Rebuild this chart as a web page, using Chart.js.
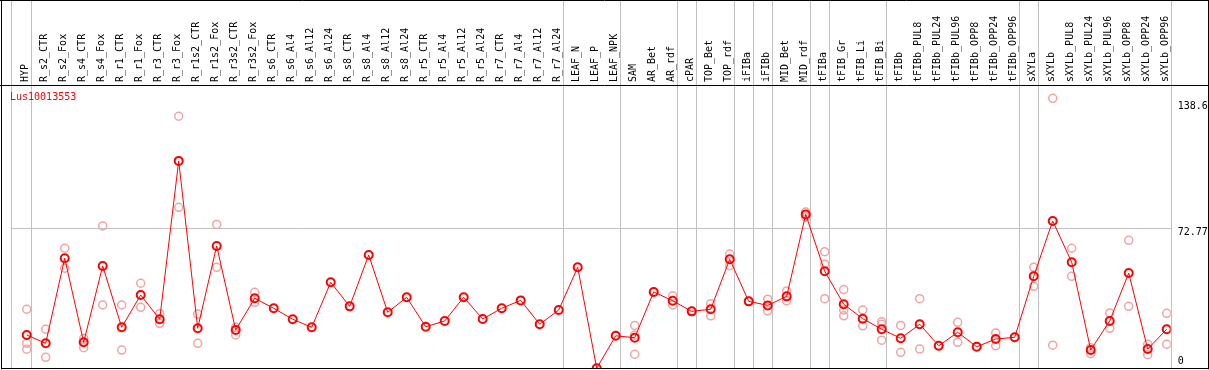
<!DOCTYPE html>
<html>
<head>
<meta charset="utf-8">
<script src="https://cdn.jsdelivr.net/npm/chart.js@4/dist/chart.umd.min.js"></script>
<style>
html,body{margin:0;padding:0;background:#fff;}
#c{display:block;}
</style>
</head>
<body>
<canvas id="c" width="1209" height="370"></canvas>
<script>
const chartTitle = "Lus10013553";
const categories = ["HYP","R_s2_CTR","R_s2_Fox","R_s4_CTR","R_s4_Fox","R_r1_CTR","R_r1_Fox","R_r3_CTR","R_r3_Fox","R_r1s2_CTR","R_r1s2_Fox","R_r3s2_CTR","R_r3s2_Fox","R_s6_CTR","R_s6_Al4","R_s6_Al12","R_s6_Al24","R_s8_CTR","R_s8_Al4","R_s8_Al12","R_s8_Al24","R_r5_CTR","R_r5_Al4","R_r5_Al12","R_r5_Al24","R_r7_CTR","R_r7_Al4","R_r7_Al12","R_r7_Al24","LEAF_N","LEAF_P","LEAF_NPK","SAM","AR_Bet","AR_rdf","cPAR","TOP_Bet","TOP_rdf","iFIBa","iFIBb","MID_Bet","MID_rdf","tFIBa","tFIB_Gr","tFIB_Li","tFIB_Bi","tFIBb","tFIBb_PUL8","tFIBb_PUL24","tFIBb_PUL96","tFIBb_OPP8","tFIBb_OPP24","tFIBb_OPP96","sXYLa","sXYLb","sXYLb_PUL8","sXYLb_PUL24","sXYLb_PUL96","sXYLb_OPP8","sXYLb_OPP24","sXYLb_OPP96"];
const meanValues = [17.3,13.0,57.2,13.5,53.2,21.3,38.1,25.5,107.8,20.8,63.6,19.9,36.4,31.2,25.5,21.3,44.7,32.2,58.9,29.1,36.9,21.6,24.6,36.9,25.6,31.2,35.3,22.9,30.3,52.5,0,16.9,15.9,39.7,35.1,29.6,30.7,56.7,34.8,32.7,37.4,80.0,50.4,33.3,25.8,20.3,15.6,22.9,11.7,18.7,11.2,15.2,16.1,47.8,76.6,55.1,9.5,24.6,49.5,10.0,20.3];
const replicateValues = [[30.7,13.0,9.9],[20.3,5.7],[62.4,52.0],[15.6,10.7],[74.0,32.9],[32.9,9.5],[44.2,31.7],[28.4,23.4],[131.0,83.7],[28.2,13.0],[74.8,52.5],[21.3,17.3],[39.5,34.3],[],[],[],[],[],[],[],[],[],[],[],[],[],[],[],[],[],[],[],[22.3,17.3,7.3],[39.7],[37.7,32.9],[29.6],[33.6,27.3],[59.4,53.3],[34.8],[35.9,29.9],[40.2,35.1],[81.2,78.6],[60.6,54.1,36.2],[40.9,30.3,27.3],[30.3,22.1],[24.2,22.9,14.6],[22.3,8.3],[36.2,10.0],[11.7],[23.9,13.5],[11.2],[18.3,11.7],[16.1],[52.5,42.6],[140.3,12.0],[62.4,47.8],[10.7,7.6],[28.7,20.8],[66.5,32.2],[12.5,7.1],[28.6,12.5]];
const yTickValues = [0, 72.77, 138.6];
const yGridValues = [72.77];
const separatorAfter = [0,28,31,34,35,37,38,39,41,42,45,52,53,60];

const meanPoints = meanValues.map((v,i)=>({x:i,y:v}));
const repPoints = [];
replicateValues.forEach((arr,i)=>arr.forEach(v=>repPoints.push({x:i,y:v})));

const mono = "'DejaVu Sans Mono', 'Liberation Mono', monospace";

const decor = {
  id:'decor',
  beforeDatasetsDraw(chart){
    const ctx = chart.ctx, xs = chart.scales.x, ca = chart.chartArea;
    ctx.save();
    ctx.strokeStyle = '#c0c0c0';
    ctx.lineWidth = 1;
    const xsList = [xs.min].concat(separatorAfter.map(i=>i+0.21));
    xsList.forEach(v=>{
      const px = Math.round(xs.getPixelForValue(v)) + 0.5;
      ctx.beginPath(); ctx.moveTo(px, 0); ctx.lineTo(px, ca.bottom); ctx.stroke();
    });
    ctx.restore();
  },
  afterDraw(chart){
    const ctx = chart.ctx, ca = chart.chartArea, W = chart.width;
    ctx.save();
    ctx.strokeStyle = '#000'; ctx.lineWidth = 1;
    ctx.beginPath();
    ctx.moveTo(0, 0.5); ctx.lineTo(W, 0.5);
    ctx.moveTo(1.5, 0); ctx.lineTo(1.5, ca.bottom + 1);
    ctx.moveTo(W - 0.5, 0); ctx.lineTo(W - 0.5, ca.bottom + 1);
    ctx.moveTo(0, Math.round(ca.top) + 0.5); ctx.lineTo(W, Math.round(ca.top) + 0.5);
    ctx.moveTo(1, Math.floor(ca.bottom) + 0.5); ctx.lineTo(W, Math.floor(ca.bottom) + 0.5);
    ctx.stroke();
    ctx.fillStyle = '#ff0000';
    ctx.font = '10px ' + mono;
    ctx.textBaseline = 'alphabetic';
    ctx.textAlign = 'left';
    ctx.fillText(chartTitle, 10, 100);
    ctx.restore();
  }
};

new Chart(document.getElementById('c'), {
  data: {
    datasets: [
      {
        type: 'line',
        data: meanPoints,
        borderColor: '#ff0000',
        borderWidth: 1,
        pointStyle: 'circle',
        pointRadius: 4,
        pointBorderWidth: 2,
        pointBorderColor: '#ff0000',
        pointBackgroundColor: 'rgba(255,255,255,0)',
        tension: 0,
        order: 1
      },
      {
        type: 'scatter',
        data: repPoints,
        showLine: false,
        pointStyle: 'circle',
        pointRadius: 4,
        pointBorderWidth: 1.5,
        pointBorderColor: '#f0a4a4',
        pointBackgroundColor: 'rgba(255,255,255,0)',
        order: 2
      }
    ]
  },
  options: {
    responsive: false,
    animation: false,
    devicePixelRatio: 1,
    layout: { autoPadding: false, padding: { left: 10.7, right: 0, top: 0, bottom: 1.7 } },
    plugins: { legend: { display: false }, tooltip: { enabled: false }, title: { display: false } },
    scales: {
      x: {
        type: 'linear',
        position: 'top',
        min: -0.842,
        max: 60.21,
        grid: { display: false, drawTicks: false },
        border: { display: false },
        afterBuildTicks(scale){ scale.ticks = categories.map((c,i)=>({value:i})); },
        afterFit(scale){ scale.height = 85; scale.paddingLeft = 0; scale.paddingRight = 0; },
        ticks: {
          autoSkip: false,
          minRotation: 90,
          maxRotation: 90,
          padding: 3,
          labelOffset: 11,
          color: '#000',
          font: { family: mono, size: 10 },
          callback: (v) => categories[v]
        }
      },
      y: {
        type: 'linear',
        position: 'right',
        min: 0,
        max: 147.25,
        afterBuildTicks(scale){ scale.ticks = yTickValues.map(v=>({value:v})); },
        afterFit(scale){ scale.width = 38.3; scale.paddingTop = 0; scale.paddingBottom = 0; },
        grid: {
          drawTicks: false,
          color: (ctx) => (ctx.tick && yGridValues.includes(ctx.tick.value)) ? '#c0c0c0' : 'rgba(0,0,0,0)',
          lineWidth: 1
        },
        border: { display: false },
        ticks: {
          padding: 7,
          color: '#000',
          font: { family: mono, size: 10, lineHeight: 2.2 },
          labelOffset: 4.5,
          callback: (v) => (v === 0 ? ['0', ''] : String(v))
        }
      }
    }
  },
  plugins: [decor]
});
</script>
</body>
</html>
